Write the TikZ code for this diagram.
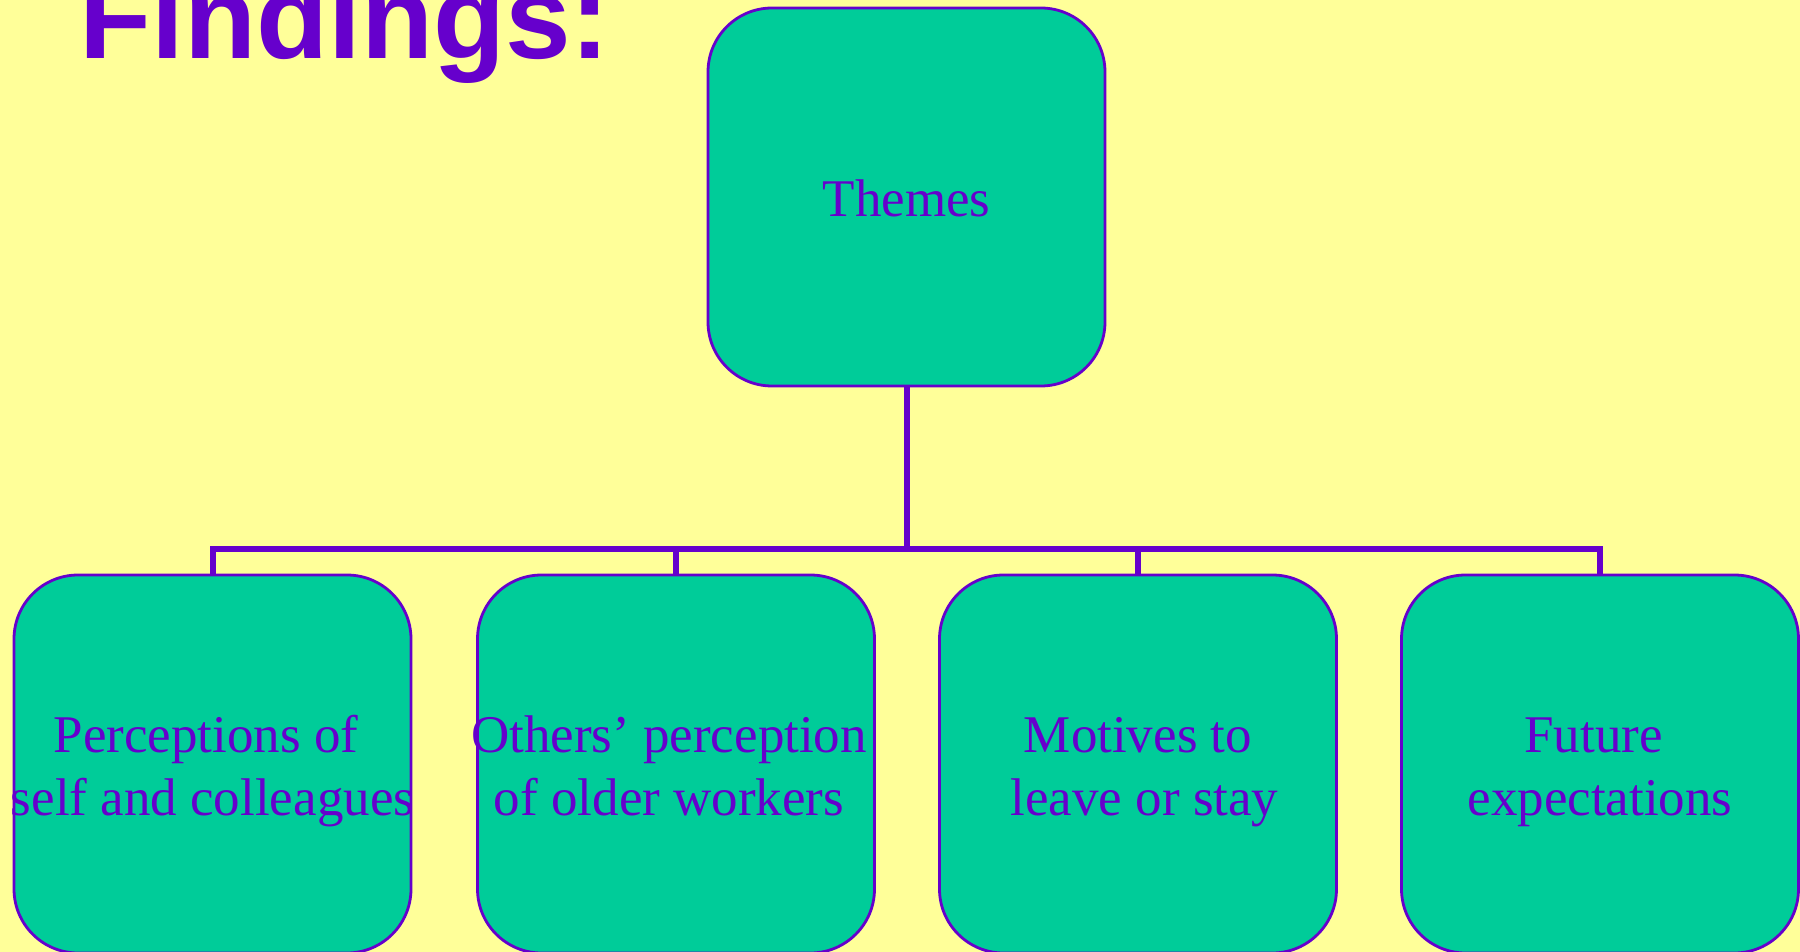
\documentclass[tikz,border=0pt]{standalone}
\usepackage{fontspec}
\setmainfont{Liberation Serif}
\newfontfamily\titlefont{Liberation Sans}
\definecolor{bgyellow}{HTML}{FFFF99}
\definecolor{boxgreen}{HTML}{00CC99}
\definecolor{ink}{HTML}{6600CC}
\newcommand{\lsA}{\vphantom{Th}}
\newcommand{\lsB}{\vphantom{g}}
\begin{document}
\begin{tikzpicture}[x=1pt,y=-1pt,
  box/.style={draw=ink, line width=2.8pt, fill=boxgreen, rounded corners=64pt,
    minimum width=397pt, minimum height=378pt, inner sep=0pt},
  lbl/.style={text=ink, align=center, inner sep=0pt,
    font=\fontsize{53}{63}\selectfont},
  conn/.style={draw=ink, line width=6pt}]
\fill[bgyellow] (0,0) rectangle (1800,952);
\useasboundingbox (0,0) rectangle (1800,952);
\node[anchor=base west, inner sep=0pt, text=ink] (title) at (79,59)
  {\titlefont\bfseries\fontsize{118}{124}\selectfont Findings:};
\node[box] (themes) at (906.5,197) {};
\node[lbl, anchor=base] (tthemes) at (906.5,217) {Themes};
\node[box] (c1) at (212.5,764) {};
\node[box] (c2) at (676,764) {};
\node[box] (c3) at (1138,764) {};
\node[box] (c4) at (1600,764) {};
\node[lbl] (t1) at (212.5,771) {\lsA Perceptions of\kern13pt\\\lsB self and colleagues};
\node[lbl] (t2) at (669,771) {\lsA Others’ perception\\\lsB of older workers};
\node[lbl] (t3) at (1138,771) {\lsA Motives to\\\lsB\kern13pt leave or stay};
\node[lbl] (t4) at (1600,771) {\lsA Future\kern13pt\\\lsB expectations};
\coordinate (bar) at (906.5,549);
\foreach \c in {c1,c2,c3,c4}
  \draw[conn] (themes.south) -- (themes.south |- bar) -| (\c.north);
\end{tikzpicture}
\end{document}
